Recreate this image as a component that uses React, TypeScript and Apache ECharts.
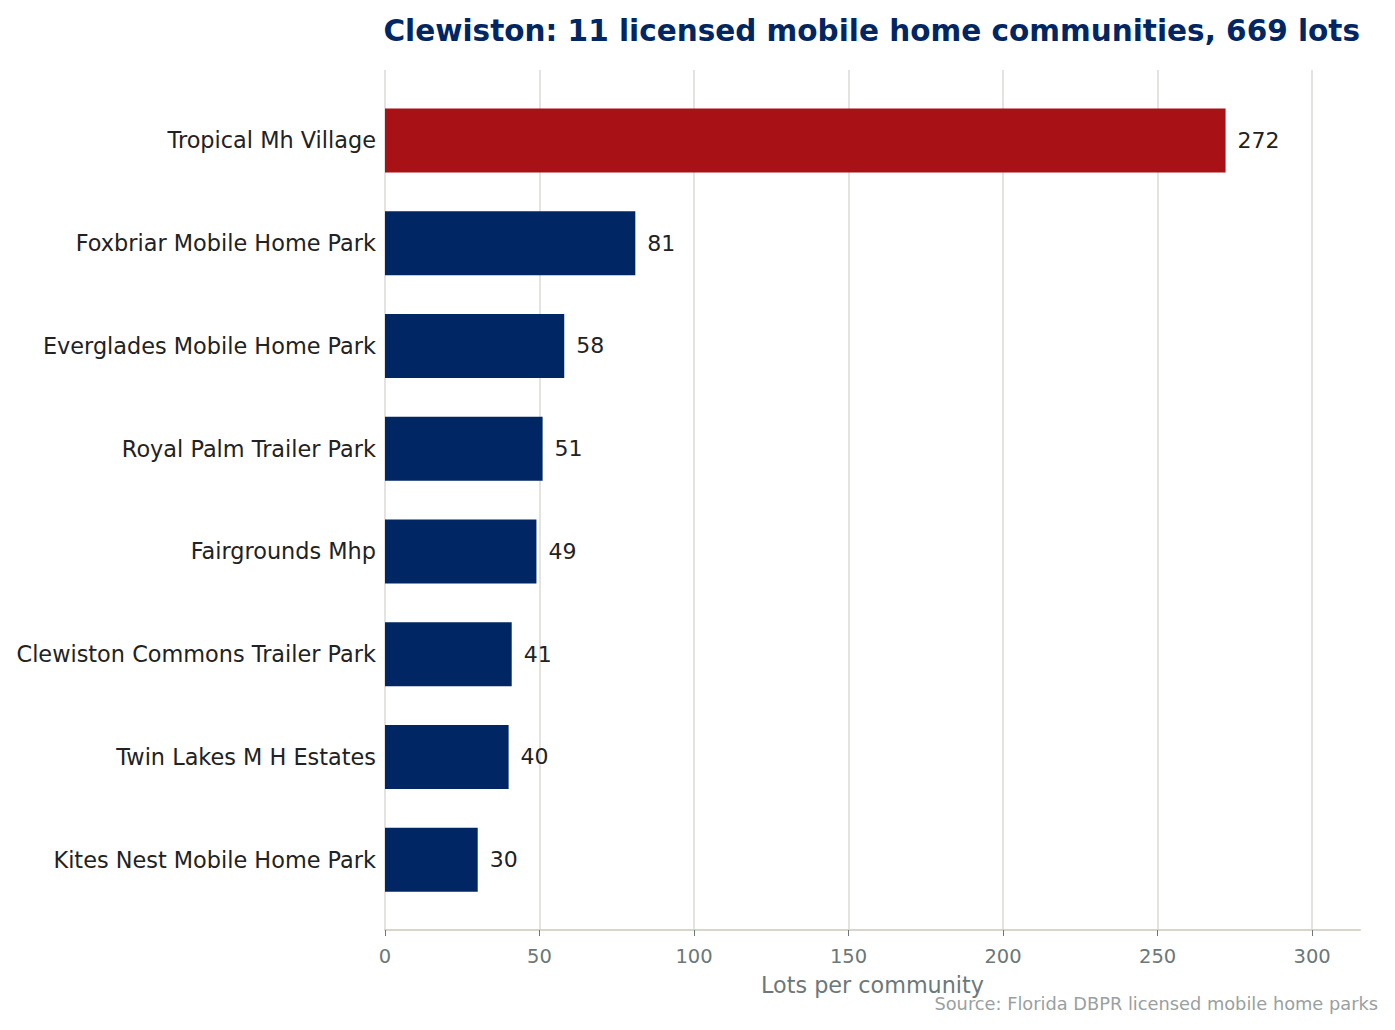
import React, { useEffect, useRef } from 'react';
import * as echarts from 'echarts';

const communities = [
  'Tropical Mh Village',
  'Foxbriar Mobile Home Park',
  'Everglades Mobile Home Park',
  'Royal Palm Trailer Park',
  'Fairgrounds Mhp',
  'Clewiston Commons Trailer Park',
  'Twin Lakes M H Estates',
  'Kites Nest Mobile Home Park',
];
const lots = [272, 81, 58, 51, 49, 41, 40, 30];
const highlighted = 'Tropical Mh Village';
const xTicks = [0, 50, 100, 150, 200, 250, 300];

const FONT = '"DejaVu Sans", "Liberation Sans", sans-serif';
const NAVY = '#002664';
const RED = '#a81115';
const X_MAX = 315.5;

function buildOption(): echarts.EChartsOption {
  return {
    animation: false,
    textStyle: { fontFamily: FONT },
    title: [
      {
        text: 'Clewiston: 11 licensed mobile home communities, 669 lots',
        right: 30,
        top: 11,
        textStyle: { color: '#002664', fontSize: 29.5, fontWeight: 'bold', fontFamily: FONT },
      },
      {
        text: 'Source: Florida DBPR licensed mobile home parks',
        right: 12,
        top: 989,
        textStyle: { color: '#9aa0a0', fontSize: 17.8, fontWeight: 'normal', fontFamily: FONT },
      },
    ],
    grid: [
      // background grid: gridlines + bottom axis
      { left: 385, right: 35, top: 70, height: 860 },
      // bars
      { left: 385, right: 35, top: 89, height: 822 },
    ],
    xAxis: [
      {
        type: 'value',
        gridIndex: 0,
        min: 0,
        max: X_MAX,
        axisLine: { show: true, lineStyle: { color: '#d8d5ca', width: 2 } },
        axisTick: { show: true, length: 6, customValues: xTicks, lineStyle: { color: '#6b7878', width: 1 } },
        axisLabel: {
          color: '#6b7878',
          fontSize: 19.5,
          margin: 16,
          fontFamily: FONT,
          customValues: xTicks,
        },
        splitLine: {
          show: true,
          lineStyle: {
            color: ['#dcdad4', '#dcdad4', '#dcdad4', '#dcdad4', '#dcdad4', '#dcdad4', '#dcdad4', 'rgba(0,0,0,0)'],
            width: 1.5,
          },
        },
        name: 'Lots per community',
        nameLocation: 'middle',
        nameGap: 44,
        nameTextStyle: { color: '#6b7878', fontSize: 22.3, fontFamily: FONT },
      },
      {
        type: 'value',
        gridIndex: 1,
        min: 0,
        max: X_MAX,
        show: false,
        splitLine: { show: false },
      },
    ],
    yAxis: [
      {
        type: 'value',
        gridIndex: 0,
        show: false,
        splitLine: { show: false },
      },
      {
        type: 'category',
        gridIndex: 1,
        data: communities,
        inverse: true,
        axisLine: { show: false },
        axisTick: { show: false },
        splitLine: { show: false },
        axisLabel: { color: '#222222', fontSize: 22.4, margin: 9, padding: [4, 0, 0, 0], fontFamily: FONT },
      },
    ],
    series: [
      {
        type: 'bar',
        xAxisIndex: 1,
        yAxisIndex: 1,
        barWidth: 64,
        data: lots.map((v, i) => ({
          value: v,
          itemStyle: { color: communities[i] === highlighted ? RED : NAVY },
        })),
        label: {
          show: true,
          position: 'right',
          distance: 12,
          color: '#222222',
          fontSize: 22,
          fontFamily: FONT,
        },
      },
    ],
  };
}

export default function App() {
  const ref = useRef<HTMLDivElement | null>(null);

  useEffect(() => {
    if (!ref.current) return undefined;
    const chart = echarts.init(ref.current, undefined, { renderer: 'svg' });
    chart.setOption(buildOption());
    return () => {
      chart.dispose();
    };
  }, []);

  return <div ref={ref} style={{ width: 1395, height: 1030, margin: -8 }} />;
}
